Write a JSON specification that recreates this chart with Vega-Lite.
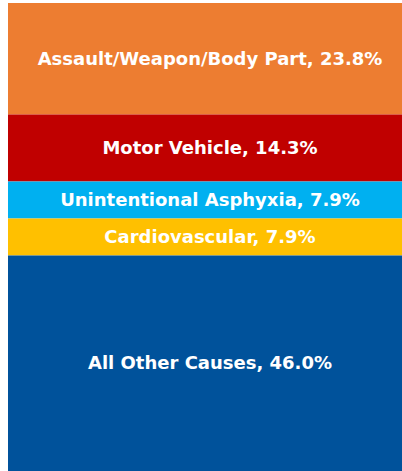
{
  "$schema": "https://vega.github.io/schema/vega-lite/v6.json",
  "width": 394,
  "height": 468,
  "autosize": {"type": "none"},
  "padding": {"left": 8, "top": 3, "right": 0, "bottom": 0},
  "background": "white",
  "config": {"view": {"stroke": null}},
  "data": {
    "values": [
      {"cause": "Assault/Weapon/Body Part", "pct": 23.8, "order": 1},
      {"cause": "Motor Vehicle", "pct": 14.3, "order": 2},
      {"cause": "Unintentional Asphyxia", "pct": 7.9, "order": 3},
      {"cause": "Cardiovascular", "pct": 7.9, "order": 4},
      {"cause": "All Other Causes", "pct": 46.0, "order": 5}
    ]
  },
  "transform": [
    {"stack": "pct", "groupby": [], "sort": [{"field": "order", "order": "ascending"}], "as": ["y0", "y1"]},
    {"calculate": "(datum.y0 + datum.y1) / 2", "as": "ymid"},
    {"calculate": "datum.cause + ', ' + format(datum.pct, '.1f') + '%'", "as": "label"}
  ],
  "layer": [
    {
      "mark": {"type": "bar", "width": {"band": 1}},
      "encoding": {
        "y": {"field": "y0", "type": "quantitative", "scale": {"domain": [0, 99.9], "reverse": true, "nice": false, "zero": false}, "axis": null},
        "y2": {"field": "y1"},
        "color": {
          "field": "cause",
          "type": "nominal",
          "scale": {
            "domain": ["Assault/Weapon/Body Part", "Motor Vehicle", "Unintentional Asphyxia", "Cardiovascular", "All Other Causes"],
            "range": ["#ED7D31", "#C00000", "#00B0F0", "#FFC000", "#00529B"]
          },
          "legend": null
        }
      }
    },
    {
      "mark": {"type": "text", "color": "white", "font": "DejaVu Sans", "fontWeight": "bold", "fontSize": 18, "align": "center", "baseline": "middle", "dx": 5, "dy": 1},
      "encoding": {
        "y": {"field": "ymid", "type": "quantitative"},
        "text": {"field": "label"}
      }
    }
  ]
}
